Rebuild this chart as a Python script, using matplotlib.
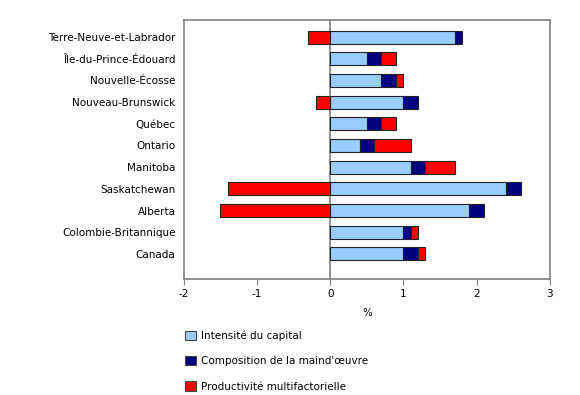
import matplotlib
matplotlib.use("Agg")
from matplotlib import pyplot as plt
from matplotlib.patches import Patch
import numpy as np

regions = ["Terre-Neuve-et-Labrador", "Île-du-Prince-Édouard", "Nouvelle-Écosse",
           "Nouveau-Brunswick", "Québec", "Ontario", "Manitoba", "Saskatchewan",
           "Alberta", "Colombie-Britannique", "Canada"]
capital = [1.7, 0.5, 0.7, 1.0, 0.5, 0.4, 1.1, 2.4, 1.9, 1.0, 1.0]
labour = [0.1, 0.2, 0.2, 0.2, 0.2, 0.2, 0.2, 0.2, 0.2, 0.1, 0.2]
mfp = [-0.3, 0.2, 0.1, -0.2, 0.2, 0.5, 0.4, -1.4, -1.5, 0.1, 0.1]
series_names = ["Intensité du capital", "Composition de la maind'œuvre",
                "Productivité multifactorielle"]
colors = ["#99ccff", "#000080", "#ff0000"]

plt.rcParams['font.family'] = ['DejaVu Sans']
plt.rcParams['axes.unicode_minus'] = False
fig = plt.figure(figsize=(5.8, 3.95), dpi=100)
ax = fig.add_axes([0.317, 0.294, 0.631, 0.655])

y = np.arange(len(regions))
pos_base = np.zeros(len(regions))
neg_base = np.zeros(len(regions))
for vals, c in zip([capital, labour, mfp], colors):
    vals = np.array(vals)
    left = np.where(vals >= 0, pos_base, neg_base)
    ax.barh(y, vals, left=left, height=0.6, color=c, edgecolor="#222222",
            linewidth=0.8, zorder=3)
    pos_base = pos_base + np.where(vals >= 0, vals, 0)
    neg_base = neg_base + np.where(vals < 0, vals, 0)

ax.axvline(0, color="#808080", linewidth=1.2, zorder=2)
ax.set_xlim(-2, 3)
ax.set_ylim(len(regions) - 1 + 1.15, -0.78)
ax.set_xticks([-2, -1, 0, 1, 2, 3])
ax.set_yticks(y)
ax.set_yticklabels(regions, fontsize=7.5)
ax.tick_params(axis="y", length=0, pad=6)
ax.tick_params(axis="x", labelsize=7.5, length=4, color="#808080", direction="out")
for s in ax.spines.values():
    s.set_color("#808080")
    s.set_linewidth(1.2)
ax.set_xlabel("%", fontsize=7.5, labelpad=6)

handles = [Patch(facecolor=c, edgecolor="#444444", linewidth=0.8) for c in colors]
fig.legend(handles, series_names, loc="upper left", bbox_to_anchor=(0.312, 0.174),
           frameon=False, fontsize=7.5, handlelength=1.0, handleheight=1.0,
           labelspacing=1.45, handletextpad=0.5, borderaxespad=0)

fig.savefig("out.png", dpi=100)
